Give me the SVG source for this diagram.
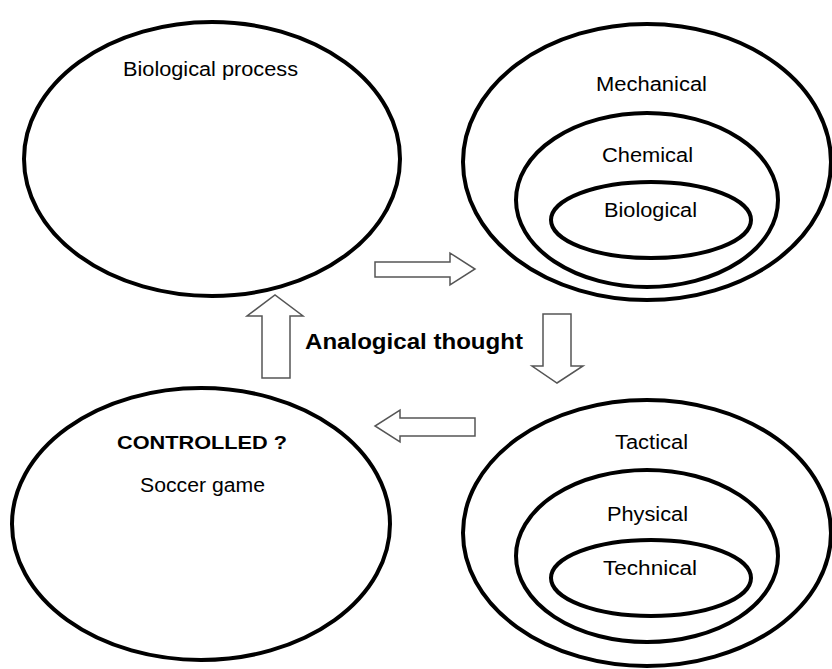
<svg xmlns="http://www.w3.org/2000/svg" width="832" height="669" viewBox="0 0 832 669">
<style>
.e{fill:none;stroke:#000;stroke-width:4}
.a{fill:#fff;stroke:#555;stroke-width:1.5}
text{font-family:"Liberation Sans",Arial,sans-serif;font-size:19.5px;fill:#000;text-anchor:middle}
.b{font-weight:bold}
</style>
<rect width="832" height="669" fill="#fff"/>
<g id="bio-process">
<ellipse class="e" cx="212" cy="159" rx="188" ry="137"/>
<text x="210.5" y="76" textLength="175" lengthAdjust="spacingAndGlyphs">Biological process</text>
</g>
<g id="mechanical">
<ellipse class="e" cx="647" cy="162" rx="184" ry="138"/>
<text x="651.5" y="91" textLength="111" lengthAdjust="spacingAndGlyphs">Mechanical</text>
</g>
<g id="chemical">
<ellipse class="e" cx="647" cy="200" rx="131" ry="87"/>
<text x="647.5" y="162" textLength="91" lengthAdjust="spacingAndGlyphs">Chemical</text>
</g>
<g id="biological">
<ellipse class="e" cx="651" cy="220" rx="100" ry="38"/>
<text x="650.5" y="217" textLength="93" lengthAdjust="spacingAndGlyphs">Biological</text>
</g>
<g id="soccer">
<ellipse class="e" cx="201" cy="524" rx="189" ry="136"/>
<text class="b" x="202" y="449" style="font-size:19px" textLength="170" lengthAdjust="spacingAndGlyphs">CONTROLLED ?</text>
<text x="202.5" y="492" textLength="125" lengthAdjust="spacingAndGlyphs">Soccer game</text>
</g>
<g id="tactical">
<ellipse class="e" cx="647" cy="533" rx="184" ry="133"/>
<text x="651.5" y="449" textLength="73" lengthAdjust="spacingAndGlyphs">Tactical</text>
</g>
<g id="physical">
<ellipse class="e" cx="647" cy="556" rx="131" ry="86"/>
<text x="647.5" y="521" textLength="81" lengthAdjust="spacingAndGlyphs">Physical</text>
</g>
<g id="technical">
<ellipse class="e" cx="651" cy="578" rx="100" ry="38"/>
<text x="650" y="575" textLength="94" lengthAdjust="spacingAndGlyphs">Technical</text>
</g>
<g id="connectors">
<polygon class="a" points="375,262 450,262 450,253 475,269 450,285 450,277 375,277"/>
<polygon class="a" points="543,314 571,314 571,366 583,366 557,383 532,366 543,366"/>
<polygon class="a" points="262,378 262,316 247,316 275,295 303,316 290,316 290,378"/>
<polygon class="a" points="475,418 400,418 400,410 375,426 400,442 400,436 475,436"/>
</g>
<text class="b" x="414" y="349" style="font-size:21.5px" textLength="218" lengthAdjust="spacingAndGlyphs">Analogical thought</text>
</svg>
